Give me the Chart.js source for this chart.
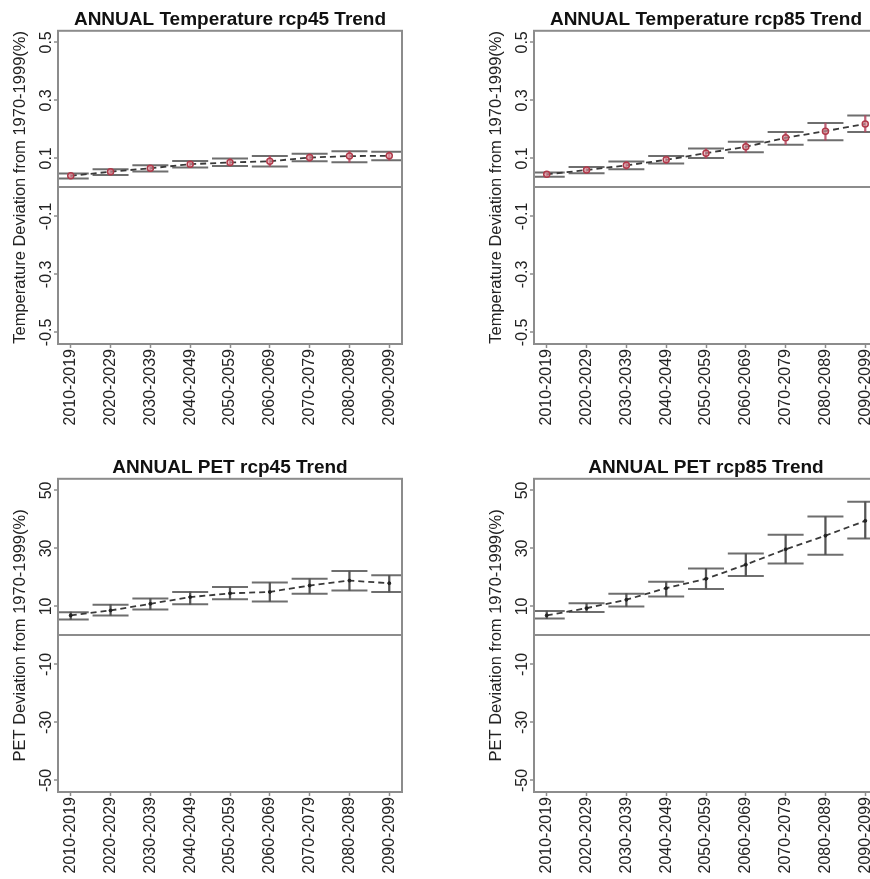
<!DOCTYPE html>
<html>
<head>
<meta charset="utf-8">
<script src="https://cdn.jsdelivr.net/npm/chart.js@4.4.1/dist/chart.umd.min.js"></script>
<style>
  html, body { margin: 0; padding: 0; background: #fff; }
  body { width: 870px; height: 879px; overflow: hidden; position: relative; }
  canvas { position: absolute; }
</style>
</head>
<body>
<canvas id="tempRcp45" width="476" height="448" style="left:0;top:0"></canvas>
<canvas id="tempRcp85" width="476" height="448" style="left:476px;top:0"></canvas>
<canvas id="petRcp45" width="476" height="448" style="left:0;top:448px"></canvas>
<canvas id="petRcp85" width="476" height="448" style="left:476px;top:448px"></canvas>
<script>
const periods = ["2010-2019", "2020-2029", "2030-2039", "2040-2049", "2050-2059",
  "2060-2069", "2070-2079", "2080-2089", "2090-2099"];

// temperature deviation, rcp45
const tempRcp45Mean = [0.040, 0.054, 0.066, 0.080, 0.086, 0.090, 0.103, 0.108, 0.109];
const tempRcp45Low  = [0.031, 0.043, 0.055, 0.069, 0.074, 0.072, 0.090, 0.087, 0.094];
const tempRcp45High = [0.048, 0.063, 0.076, 0.091, 0.100, 0.108, 0.116, 0.125, 0.123];

// temperature deviation, rcp85
const tempRcp85Mean = [0.045, 0.060, 0.076, 0.095, 0.118, 0.140, 0.171, 0.194, 0.219];
const tempRcp85Low  = [0.037, 0.049, 0.063, 0.082, 0.101, 0.121, 0.147, 0.163, 0.191];
const tempRcp85High = [0.051, 0.070, 0.089, 0.108, 0.134, 0.157, 0.191, 0.222, 0.248];

// PET deviation, rcp45
const petRcp45Mean = [6.9, 8.6, 10.9, 13.2, 14.5, 15.0, 17.2, 18.9, 18.0];
const petRcp45Low  = [5.5, 6.9, 8.9, 10.7, 12.5, 11.7, 14.4, 15.5, 15.0];
const petRcp45High = [8.0, 10.6, 12.7, 15.0, 16.7, 18.2, 19.5, 22.2, 20.7];

// PET deviation, rcp85
const petRcp85Mean = [6.9, 9.4, 12.3, 16.3, 19.5, 24.4, 29.7, 34.4, 39.5];
const petRcp85Low  = [5.8, 8.1, 10.0, 13.4, 16.0, 20.5, 24.8, 27.8, 33.4];
const petRcp85High = [8.4, 11.1, 14.4, 18.5, 23.1, 28.2, 34.7, 41.0, 46.1];

const tempTicks = [-0.5, -0.3, -0.1, 0, 0.1, 0.3, 0.5];
const petTicks = [-50, -30, -10, 0, 10, 30, 50];

const FONT = "'Liberation Sans', Arial, sans-serif";
const BOX = "#8c8c8c";

// draws the R style box round the plot region
const boxPlugin = {
  id: "box",
  afterDraw(chart) {
    const { ctx, chartArea: a } = chart;
    ctx.save();
    ctx.strokeStyle = BOX;
    ctx.lineWidth = 2;
    ctx.strokeRect(a.left, a.top, a.right - a.left, a.bottom - a.top);
    ctx.restore();
  },
};

function makePanel(id, title, yTitle, mean, low, high, ticks, lim, decimals, temp) {
  const pts = (arr) => arr.map((v, i) => ({ x: i + 1, y: v }));
  const barColor = temp ? "rgba(180,70,95,0.85)" : "#555";
  const capStyle = {
    type: "line",
    showLine: false,
    pointStyle: "line",
    pointRadius: 18,
    pointBorderWidth: 2,
    pointBorderColor: "#6e6e6e",
    order: 1,
  };
  const cfg = {
    data: {
      datasets: [
        {
          type: "line",
          data: pts(mean),
          borderColor: "#3a3a3a",
          borderWidth: 1.8,
          borderDash: [6, 4],
          tension: 0,
          pointRadius: temp ? 3 : 1.5,
          pointBorderWidth: temp ? 1.5 : 1,
          pointBorderColor: temp ? "#b03a4a" : "#222",
          pointBackgroundColor: temp ? "rgba(225,160,170,0.6)" : "#222",
          order: 0,
        },
        {
          type: "bar",
          data: low.map((lo, i) => ({ x: i + 1, y: [lo, high[i]] })),
          backgroundColor: barColor,
          barThickness: 1.6,
          grouped: false,
          order: 1,
        },
        Object.assign({ data: pts(high) }, capStyle),
        Object.assign({ data: pts(low) }, capStyle),
      ],
    },
    options: {
      responsive: false,
      animation: false,
      events: [],
      layout: { padding: { left: 0, right: 74, top: 0, bottom: 0 } },
      plugins: {
        legend: { display: false },
        tooltip: { enabled: false },
        title: {
          display: true,
          text: title,
          fullSize: false,
          color: "#111",
          font: { family: FONT, size: 19, weight: "bold" },
          padding: { top: 8, bottom: 0 },
        },
      },
      scales: {
        x: {
          type: "linear",
          min: 0.68,
          max: 9.32,
          offset: false,
          afterBuildTicks: (s) => { s.ticks = periods.map((p, i) => ({ value: i + 1 })); },
          afterFit: (s) => { s.height = 104; },
          border: { display: false },
          grid: { offset: false, drawOnChartArea: false, tickLength: 4, tickColor: BOX, tickWidth: 1.5 },
          ticks: {
            autoSkip: false,
            minRotation: 90,
            maxRotation: 90,
            padding: 1,
            color: "#222",
            font: { family: FONT, size: 16 },
            callback: (v, i) => periods[i],
          },
        },
        y: {
          type: "linear",
          min: -lim,
          max: lim,
          afterBuildTicks: (s) => { s.ticks = ticks.map((v) => ({ value: v })); },
          afterFit: (s) => { s.width = 58; },
          border: { display: false },
          grid: {
            tickLength: 4,
            tickWidth: 1.5,
            color: (c) => (c.tick && c.tick.value === 0 ? BOX : "rgba(0,0,0,0)"),
            lineWidth: 2,
            tickColor: (c) => (c.tick && c.tick.value === 0 ? "rgba(0,0,0,0)" : BOX),
          },
          ticks: {
            minRotation: 90,
            maxRotation: 90,
            crossAlign: "center",
            padding: temp ? -6 : -4,
            color: "#222",
            font: { family: FONT, size: 16 },
            callback: (v) => (v === 0 ? "" : v.toFixed(decimals)),
          },
          title: {
            display: true,
            text: yTitle,
            color: "#222",
            font: { family: FONT, size: 16.5 },
            padding: { top: 11, bottom: 0 },
          },
        },
      },
    },
    plugins: [boxPlugin],
  };
  return new Chart(document.getElementById(id).getContext("2d"), cfg);
}

const tempLabel = "Temperature Deviation from 1970-1999(%)";
const petLabel = "PET Deviation from 1970-1999(%)";

makePanel("tempRcp45", "ANNUAL Temperature rcp45 Trend", tempLabel,
  tempRcp45Mean, tempRcp45Low, tempRcp45High, tempTicks, 0.54, 1, true);
makePanel("tempRcp85", "ANNUAL Temperature rcp85 Trend", tempLabel,
  tempRcp85Mean, tempRcp85Low, tempRcp85High, tempTicks, 0.54, 1, true);
makePanel("petRcp45", "ANNUAL PET rcp45 Trend", petLabel,
  petRcp45Mean, petRcp45Low, petRcp45High, petTicks, 54, 0, false);
makePanel("petRcp85", "ANNUAL PET rcp85 Trend", petLabel,
  petRcp85Mean, petRcp85Low, petRcp85High, petTicks, 54, 0, false);
</script>
</body>
</html>
